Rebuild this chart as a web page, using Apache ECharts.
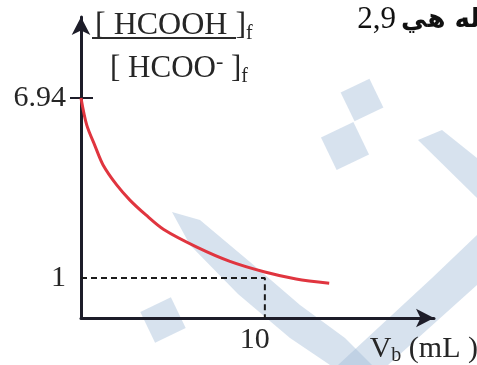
<!DOCTYPE html>
<html>
<head>
<meta charset="utf-8">
<script src="https://cdn.jsdelivr.net/npm/echarts@6/dist/echarts.min.js"></script>
<style>
  html, body { margin: 0; padding: 0; background: #ffffff; }
  #chart { width: 477px; height: 365px; }
</style>
</head>
<body>
<div id="chart"></div>
<script>
// Added base volume V_b (mL) and the ratio [HCOOH]f / [HCOO-]f
var vbValues    = [0, 0.31, 0.76, 1.2, 1.94, 2.66, 3.53, 4.5, 6.3, 8.1, 10, 11.7, 13.5];
var ratioValues = [6.94, 6.05, 5.36, 4.73, 4.07, 3.57, 3.08, 2.6, 2.02, 1.55, 1.2, 0.97, 0.83];

// Half-equivalence point marked with dashed guides
var halfPointVb = 10;
var halfPointRatio = 1;

// Tick labels shown on the axes
var xTickLabels = [10];
var yTickLabels = [1, 6.94];

var X_MIN = 0, X_MAX = 19.2;
var Y_MIN = -0.32, Y_MAX = 9.61;

var curveData = vbValues.map(function (v, i) { return [v, ratioValues[i]]; });
var guideData = [[X_MIN, halfPointRatio], [halfPointVb, halfPointRatio], [halfPointVb, Y_MIN]];

var AXIS_COLOR = '#1d1d29';
var TEXT_COLOR = '#262626';
var SERIF = "'Liberation Serif', 'DejaVu Serif', serif";
var WM = 'rgba(160, 186, 214, 0.42)';

var chart = echarts.init(document.getElementById('chart'), null, { renderer: 'canvas' });

chart.setOption({
  animation: false,
  backgroundColor: '#ffffff',
  grid: { left: 81, right: 43, top: 17, bottom: 47, containLabel: false, outerBoundsMode: 'none' },
  xAxis: {
    type: 'value',
    min: X_MIN,
    max: X_MAX,
    splitLine: { show: false },
    axisTick: { show: false },
    axisLine: {
      onZero: false,
      symbol: ['none', 'arrow'],
      symbolSize: [14, 18],
      lineStyle: { color: AXIS_COLOR, width: 3 }
    },
    axisLabel: {
      customValues: xTickLabels,
      fontFamily: SERIF,
      fontSize: 30,
      color: TEXT_COLOR,
      margin: 7,
      padding: [0, 20, 0, 0]
    },
    name: '{v|V}{s|b}{v| (mL )}',
    nameLocation: 'end',
    nameGap: 44,
    nameTextStyle: {
      align: 'right',
      verticalAlign: 'top',
      padding: [14, 0, 0, 0],
      rich: {
        v: { fontFamily: SERIF, fontSize: 30, color: TEXT_COLOR, lineHeight: 34 },
        s: { fontFamily: SERIF, fontSize: 20, color: TEXT_COLOR, lineHeight: 20, verticalAlign: 'bottom' }
      }
    }
  },
  yAxis: [{
    type: 'value',
    min: Y_MIN,
    max: Y_MAX,
    splitLine: { show: false },
    axisLine: {
      onZero: false,
      symbol: ['none', 'arrow'],
      symbolSize: [14, 18],
      lineStyle: { color: AXIS_COLOR, width: 3 }
    },
    axisTick: {
      customValues: [yTickLabels[1]],
      length: 11,
      lineStyle: { color: AXIS_COLOR, width: 2 }
    },
    axisLabel: {
      customValues: yTickLabels,
      formatter: function (v) { return String(v); },
      fontFamily: SERIF,
      fontSize: 30,
      color: TEXT_COLOR,
      margin: 15
    }
  }, {
    type: 'value',
    min: Y_MIN,
    max: Y_MAX,
    position: 'left',
    splitLine: { show: false },
    axisLine: { show: false },
    axisLabel: { show: false },
    axisTick: {
      customValues: [yTickLabels[1]],
      inside: true,
      length: 12,
      lineStyle: { color: AXIS_COLOR, width: 2 }
    }
  }],
  series: [{
    name: 'guides',
    type: 'line',
    data: guideData,
    showSymbol: false,
    silent: true,
    z: 3,
    lineStyle: { color: '#1a1a1a', width: 2, type: [6, 4] }
  }, {
    name: 'ratio',
    type: 'line',
    data: curveData,
    smooth: 0.3,
    showSymbol: false,
    z: 4,
    lineStyle: { color: '#e0353f', width: 3 }
  }],
  graphic: [
    // light watermark behind the figure
    { type: 'polygon', z: -10, silent: true, shape: { points: [[172,212],[200,220],[250,262],[300,305],[345,338],[372,365],[330,365],[290,338],[238,294],[190,245]] }, style: { fill: WM } },
    { type: 'polygon', z: -10, silent: true, shape: { points: [[338,365],[388,365],[477,285],[477,235],[432,278]] }, style: { fill: WM } },
    { type: 'polygon', z: -10, silent: true, shape: { points: [[418,140],[442,130],[477,158],[477,198]] }, style: { fill: WM } },
    { type: 'rect', z: -10, silent: true, x: 362, y: 100, rotation: 0.45, shape: { x: -16, y: -16, width: 32, height: 32 }, style: { fill: WM } },
    { type: 'rect', z: -10, silent: true, x: 345, y: 146, rotation: 0.45, shape: { x: -18, y: -18, width: 36, height: 36 }, style: { fill: WM } },
    { type: 'rect', z: -10, silent: true, x: 163, y: 320, rotation: 0.45, shape: { x: -17, y: -17, width: 34, height: 34 }, style: { fill: WM } },

    // y-axis quantity written as a fraction
    {
      type: 'text', x: 95, y: 8,
      style: {
        text: '{m|[ HCOOH ]}{s|f}',
        textVerticalAlign: 'top',
        rich: {
          m: { fontFamily: SERIF, fontSize: 32, lineHeight: 36, fill: TEXT_COLOR },
          s: { fontFamily: SERIF, fontSize: 20, lineHeight: 20, fill: TEXT_COLOR, verticalAlign: 'bottom' }
        }
      }
    },
    { type: 'line', shape: { x1: 92, y1: 38, x2: 236, y2: 38 }, style: { stroke: '#2b2b2b', lineWidth: 2 } },
    {
      type: 'text', x: 110, y: 51,
      style: {
        text: '{m|[ HCOO}{p|-}{m| ]}{s|f}',
        textVerticalAlign: 'top',
        rich: {
          m: { fontFamily: SERIF, fontSize: 31, lineHeight: 36, fill: TEXT_COLOR },
          p: { fontFamily: SERIF, fontSize: 22, lineHeight: 22, fill: TEXT_COLOR, verticalAlign: 'top' },
          s: { fontFamily: SERIF, fontSize: 20, lineHeight: 20, fill: TEXT_COLOR, verticalAlign: 'bottom' }
        }
      }
    },
    {
      type: 'text', x: 480, y: 4,
      style: {
        text: '{n|2,9}{g| }{a|له هي}',
        textAlign: 'right',
        textVerticalAlign: 'top',
        rich: {
          n: { fontFamily: SERIF, fontSize: 31, lineHeight: 32, fill: '#111111' },
          g: { fontFamily: SERIF, fontSize: 20, lineHeight: 32 },
          a: { fontFamily: "'DejaVu Sans', sans-serif", fontSize: 26, fontWeight: 'bold', lineHeight: 32, fill: '#111111' }
        }
      }
    }
  ]
});
</script>
</body>
</html>
